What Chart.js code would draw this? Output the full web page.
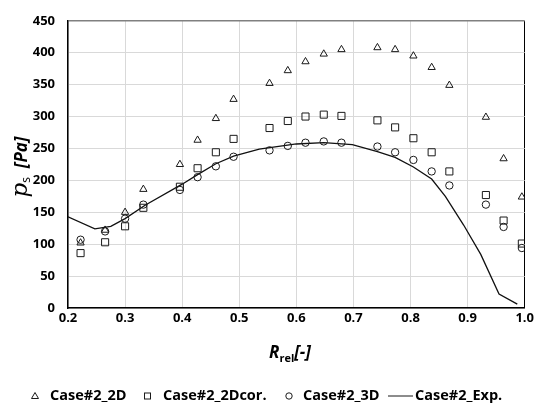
<!DOCTYPE html>
<html>
<head>
<meta charset="utf-8">
<script src="https://cdn.jsdelivr.net/npm/chart.js@4.4.1/dist/chart.umd.min.js"></script>
<style>
  html, body { margin: 0; padding: 0; background: #fff; }
  #wrap { width: 536px; height: 403px; position: relative; }
</style>
</head>
<body>
<div id="wrap"><canvas id="c" width="536" height="403"></canvas></div>
<script>
// ---- data ----
const rSim = [0.222, 0.265, 0.300, 0.332, 0.396, 0.427, 0.459, 0.490, 0.553, 0.585, 0.616, 0.648, 0.679, 0.742, 0.773, 0.805, 0.837, 0.868, 0.932, 0.963, 0.995];
const case2D    = [102, 122, 150, 186, 225, 263, 297, 327, 352, 372, 386, 398, 405, 408, 405, 395, 377, 349, 299, 234, 174];
const case2Dcor = [86, 103, 128, 157, 190, 219, 244, 265, 282, 293, 300, 303, 301, 294, 283, 266, 244, 214, 177, 137, 101];
const case3D    = [107, 120, 140, 162, 185, 205, 222, 237, 247, 254, 259, 261, 259, 253, 244, 232, 214, 192, 162, 127, 94];
const rExp   = [0.200, 0.247, 0.275, 0.300, 0.335, 0.400, 0.427, 0.459, 0.490, 0.535, 0.600, 0.648, 0.698, 0.742, 0.773, 0.805, 0.837, 0.861, 0.893, 0.923, 0.955, 0.987];
const caseExp = [143, 124, 128, 140, 161, 194, 209, 226, 238, 249, 257, 259, 256, 245, 236, 221, 202, 175, 130, 84, 22, 6];
const seriesNames = ['Case#2_2D', 'Case#2_2Dcor.', 'Case#2_3D', 'Case#2_Exp.'];
const xTickRange = [0.2, 1.0, 0.1];
const yTickRange = [0, 450, 50];

const pts = (xs, ys) => xs.map((x, i) => ({ x: x, y: ys[i] }));
const FONT = "'Open Sans', 'Liberation Sans', Arial, sans-serif";

const markerDs = (label, ys, style, r) => ({
  label: label, data: pts(rSim, ys), showLine: false,
  pointStyle: style, pointRadius: r, pointHoverRadius: r,
  pointBackgroundColor: 'rgba(255,255,255,0)', pointBorderColor: '#1a1a1a', pointBorderWidth: 1
});

const titlesPlugin = {
  id: 'titles',
  afterDraw(chart) {
    const ctx = chart.ctx;
    ctx.save();
    ctx.fillStyle = '#000';
    ctx.textBaseline = 'alphabetic';
    // x-axis title: R_rel[-]
    const xParts = [
      { t: 'R', f: "italic bold 17px " + FONT, dy: 0 },
      { t: 'rel', f: "bold 11px " + FONT, dy: 4 },
      { t: '[-]', f: "italic bold 17px " + FONT, dy: 0 }
    ];
    let w = 0;
    xParts.forEach(p => { ctx.font = p.f; p.w = ctx.measureText(p.t).width; w += p.w; });
    let x = 290 - w / 2;
    xParts.forEach(p => { ctx.font = p.f; ctx.fillText(p.t, x, 358 + p.dy); x += p.w; });

    // y-axis title: p_s [Pa]
    ctx.translate(27, 167);
    ctx.rotate(-Math.PI / 2);
    const yParts = [
      { t: 'p', f: "italic 23px 'DejaVu Serif', serif", dy: 0 },
      { t: 's', f: "12px " + FONT, dy: 3 },
      { t: '  [Pa]', f: "italic bold 17px " + FONT, dy: 0 }
    ];
    w = 0;
    yParts.forEach(p => { ctx.font = p.f; p.w = ctx.measureText(p.t).width; w += p.w; });
    x = -w / 2;
    yParts.forEach(p => { ctx.font = p.f; ctx.fillText(p.t, x, p.dy); x += p.w; });
    ctx.restore();

    // legend
    ctx.save();
    const ly = 396;
    ctx.strokeStyle = '#1a1a1a';
    ctx.lineWidth = 1;
    ctx.fillStyle = '#000';
    ctx.font = "bold 14.5px " + FONT;
    ctx.textBaseline = 'middle';
    // triangle
    ctx.beginPath();
    ctx.moveTo(35, ly - 3.5); ctx.lineTo(38.5, ly + 2.5); ctx.lineTo(31.5, ly + 2.5); ctx.closePath(); ctx.stroke();
    ctx.fillText(seriesNames[0], 50, ly);
    // square
    ctx.strokeRect(144.5, ly - 3, 6, 6);
    ctx.fillText(seriesNames[1], 163, ly);
    // circle
    ctx.beginPath(); ctx.arc(289, ly, 3.2, 0, Math.PI * 2); ctx.stroke();
    ctx.fillText(seriesNames[2], 303, ly);
    // line
    ctx.beginPath(); ctx.moveTo(388, ly); ctx.lineTo(413, ly); ctx.stroke();
    ctx.fillText(seriesNames[3], 415, ly);
    ctx.restore();
  }
};

new Chart(document.getElementById('c'), {
  type: 'scatter',
  data: {
    datasets: [
      markerDs(seriesNames[0], case2D, 'triangle', 4.2),
      markerDs(seriesNames[1], case2Dcor, 'rect', 5),
      markerDs(seriesNames[2], case3D, 'circle', 3.7),
      {
        label: seriesNames[3], data: pts(rExp, caseExp), showLine: true,
        borderColor: '#111', borderWidth: 1.3, pointRadius: 0, tension: 0, fill: false
      }
    ]
  },
  options: {
    responsive: false,
    animation: false,
    events: [],
    layout: { padding: { left: 0, right: 10, top: 15, bottom: 0 } },
    plugins: { legend: { display: false }, tooltip: { enabled: false } },
    scales: {
      x: {
        type: 'linear', min: xTickRange[0], max: xTickRange[1],
        afterFit(s) { s.height = 95; },
        ticks: {
          stepSize: xTickRange[2], padding: 2, color: '#000',
          font: { family: FONT, size: 13, weight: 'bold' },
          callback: v => v.toFixed(1)
        },
        grid: {
          drawTicks: false, lineWidth: 1,
          color: c => (c.index === 8 ? '#000' : '#d9d9d9')
        },
        border: { display: true, color: '#000', width: 1.5 }
      },
      y: {
        type: 'linear', min: yTickRange[0], max: yTickRange[1],
        afterFit(s) { s.width = 68; },
        ticks: {
          stepSize: yTickRange[2], padding: 13, color: '#000',
          font: { family: FONT, size: 13, weight: 'bold' }
        },
        grid: {
          drawTicks: false,
          color: c => (c.tick && c.tick.value === 450 ? '#808080' : '#d9d9d9'),
          lineWidth: c => (c.tick && c.tick.value === 450 ? 1.5 : 1)
        },
        border: { display: true, color: '#000', width: 1.5 }
      }
    }
  },
  plugins: [titlesPlugin]
});
</script>
</body>
</html>
